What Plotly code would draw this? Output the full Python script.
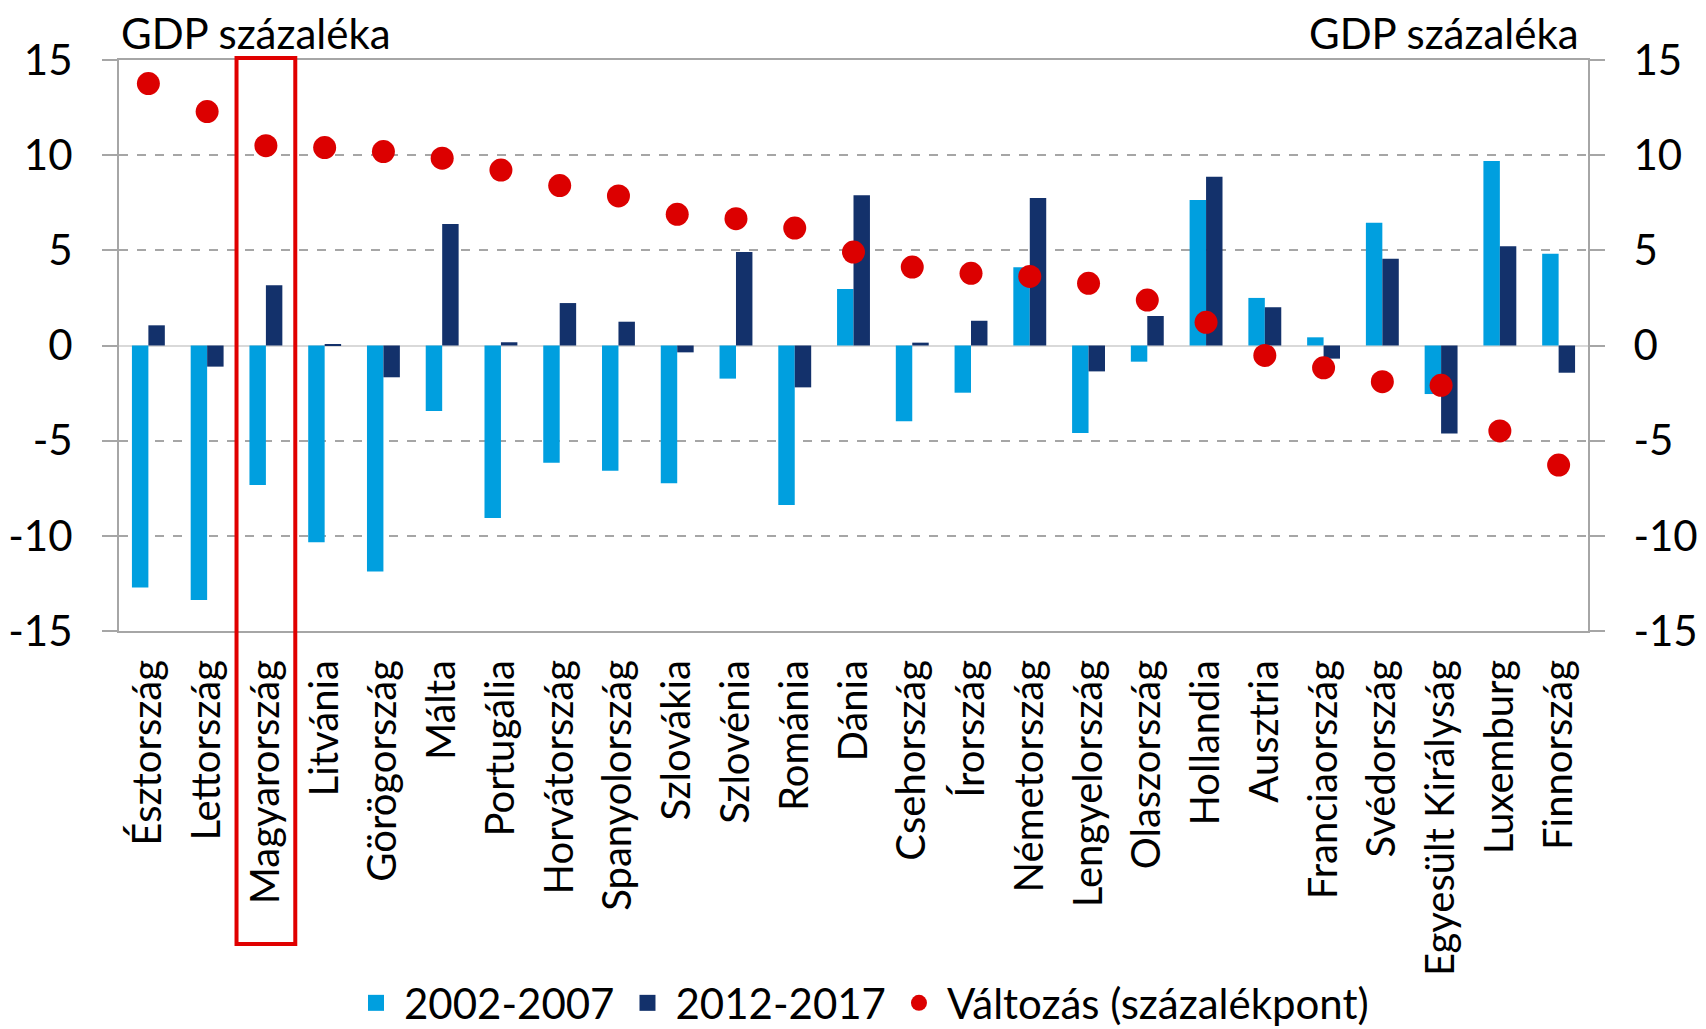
import plotly.graph_objects as go

# adatok (GDP százaléka)
orszagok = ["Észtország", "Lettország", "Magyarország", "Litvánia", "Görögország",
            "Málta", "Portugália", "Horvátország", "Spanyolország", "Szlovákia",
            "Szlovénia", "Románia", "Dánia", "Csehország", "Írország",
            "Németország", "Lengyelország", "Olaszország", "Hollandia", "Ausztria",
            "Franciaország", "Svédország", "Egyesült Királyság", "Luxemburg", "Finnország"]

ertek_2002_2007 = [-12.71, -13.37, -7.33, -10.34, -11.88, -3.44, -9.06, -6.16, -6.58, -7.24,
                   -1.74, -8.38, 2.97, -3.98, -2.48, 4.11, -4.60, -0.85, 7.65, 2.50,
                   0.43, 6.45, -2.55, 9.70, 4.82]

ertek_2012_2017 = [1.06, -1.11, 3.16, 0.08, -1.67, 6.38, 0.17, 2.23, 1.25, -0.36,
                   4.91, -2.20, 7.89, 0.15, 1.30, 7.75, -1.36, 1.55, 8.87, 2.01,
                   -0.69, 4.56, -4.63, 5.21, -1.43]

valtozas = [13.76, 12.29, 10.50, 10.40, 10.19, 9.84, 9.22, 8.40, 7.86, 6.89,
            6.66, 6.17, 4.91, 4.12, 3.79, 3.63, 3.27, 2.39, 1.22, -0.52,
            -1.17, -1.90, -2.09, -4.49, -6.28]

y_ticks = [-15, -10, -5, 0, 5, 10, 15]
y_tick_text = ["-15", "-10", "-5", "0", "5", "10", "15"]

FONT = "Lato"
GRID = "#A6A6A6"
KEK = "#009FDF"
SOTETKEK = "#13316B"
PIROS = "#DC0000"

fig = go.Figure()

fig.add_trace(go.Bar(x=orszagok, y=ertek_2002_2007, name="2002-2007",
                     marker=dict(color=KEK, line=dict(width=0)), showlegend=False))
fig.add_trace(go.Bar(x=orszagok, y=ertek_2012_2017, name="2012-2017",
                     marker=dict(color=SOTETKEK, line=dict(width=0)), showlegend=False))
fig.add_trace(go.Scatter(x=orszagok, y=valtozas, name="Változás (százalékpont)",
                         mode="markers", yaxis="y2", showlegend=False,
                         marker=dict(color=PIROS, size=23)))

# jelmagyarázat (nagyobb szimbólumokkal)
for nev, szin, jel in [("2002-2007", KEK, "square"), ("2012-2017", SOTETKEK, "square"),
                       ("Változás (százalékpont)", PIROS, "circle")]:
    fig.add_trace(go.Scatter(x=[None], y=[None], mode="markers", name=nev,
                             marker=dict(color=szin, symbol=jel, size=24)))

# kiemelő keret Magyarország körül
hu = orszagok.index("Magyarország")
fig.add_shape(type="rect", xref="x", yref="paper",
              x0=hu - 0.5, x1=hu + 0.5, y0=-0.548, y1=1.0035,
              line=dict(color="#E00000", width=4))

fig.add_annotation(text="GDP százaléka", xref="paper", yref="paper", x=0.0, y=1,
                   xanchor="left", yanchor="bottom", showarrow=False,
                   font=dict(family=FONT, size=42, color="black"), yshift=0)
fig.add_annotation(text="GDP százaléka", xref="paper", yref="paper", x=0.995, y=1,
                   xanchor="right", yanchor="bottom", showarrow=False,
                   font=dict(family=FONT, size=42, color="black"), yshift=0)

yax = dict(range=[-15, 15], tickvals=y_ticks, ticktext=y_tick_text, ticks="outside",
           ticklen=15, tickcolor=GRID, tickwidth=1.5, showline=True, linecolor=GRID,
           linewidth=2, automargin=False,
           tickfont=dict(family=FONT, size=42, color="black"))

fig.update_layout(
    width=1706, height=1029,
    margin=dict(l=111, r=126, t=52, b=406),
    plot_bgcolor="white", paper_bgcolor="white",
    barmode="group", bargap=0.44, bargroupgap=0,
    font=dict(family=FONT, size=40, color="black"),
    xaxis=dict(range=[-0.5, len(orszagok) - 0.5], tickangle=-90, showline=True,
               mirror=True, linecolor=GRID, linewidth=2, automargin=False,
               ticks="", tickfont=dict(family=FONT, size=40, color="black"),
               ticklabelstandoff=11),
    yaxis=dict(**yax, ticklabelstandoff=21, showgrid=True, gridcolor=GRID,
               gridwidth=1.5, griddash="dash",
               zeroline=True, zerolinecolor="#D9D9D9", zerolinewidth=2),
    yaxis2=dict(**yax, ticklabelstandoff=20, overlaying="y", side="right",
                showgrid=False, zeroline=False),
    legend=dict(orientation="h", xref="container", yref="container",
                x=0.5, xanchor="center", y=0.033, yanchor="middle", itemwidth=46,
                font=dict(family=FONT, size=42, color="black"), traceorder="normal"),
    showlegend=True,
)

fig.write_html("out.html")
